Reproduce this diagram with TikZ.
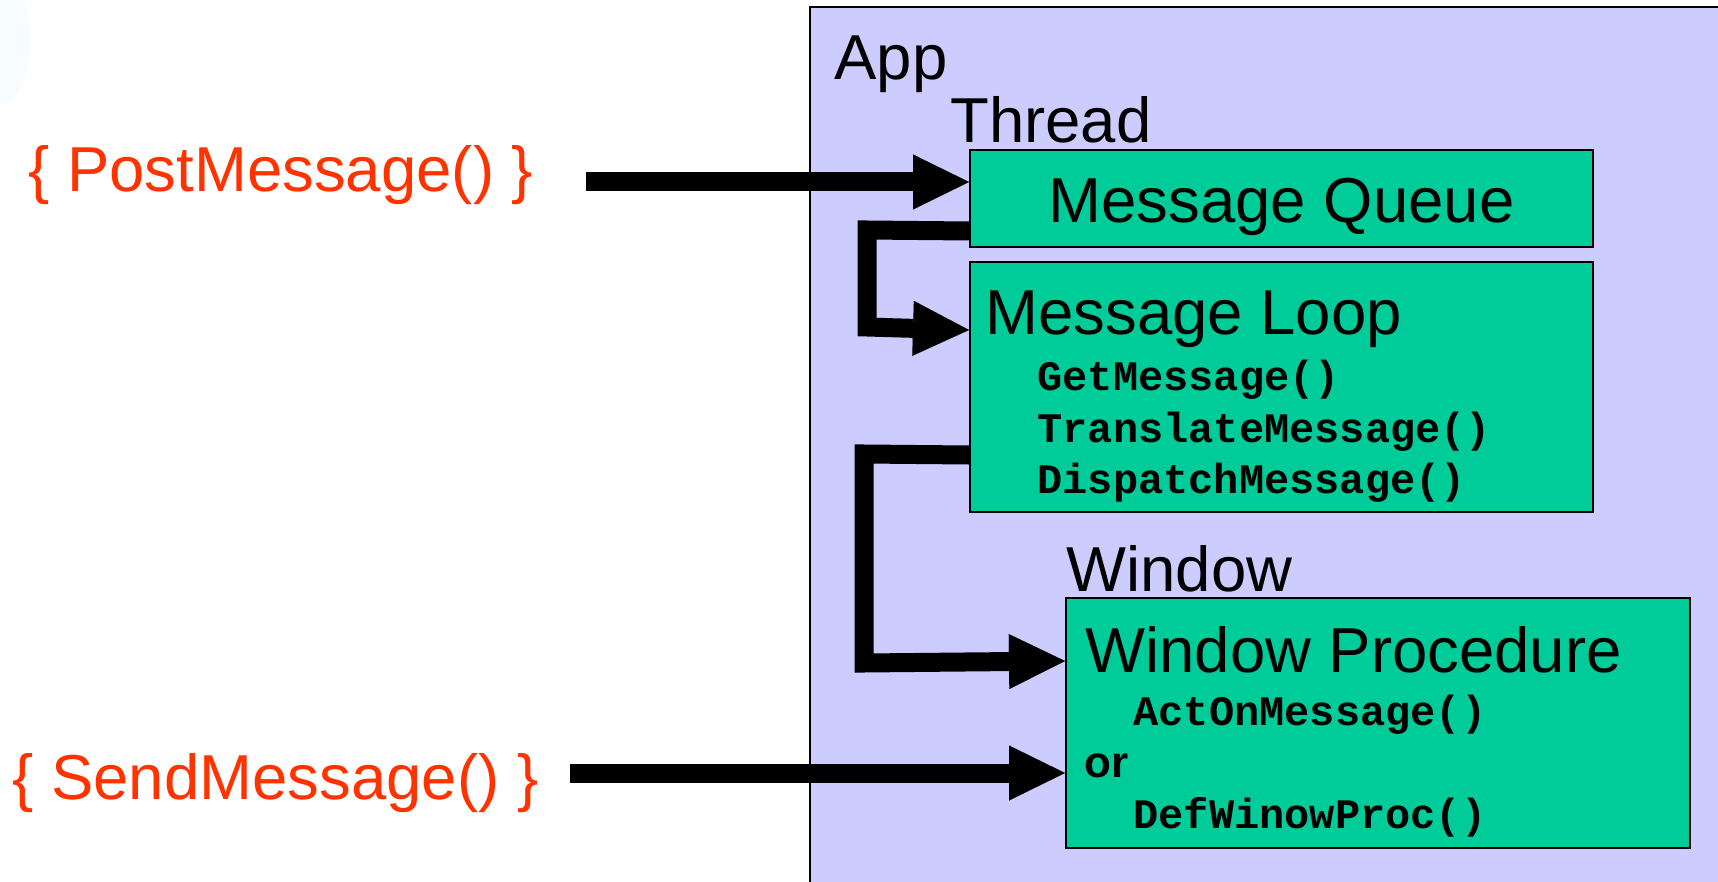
\documentclass[tikz,border=0pt]{standalone}
\usepackage{fontspec}
\setmainfont{Liberation Sans}
\newfontfamily\codefont{Liberation Mono}
\usetikzlibrary{arrows.meta,calc}
\definecolor{panelblue}{RGB}{204,204,255}
\definecolor{boxgreen}{RGB}{0,204,153}
\definecolor{callred}{RGB}{255,51,0}
\definecolor{haze}{RGB}{246,252,255}
\tikzset{
  label text/.style={anchor=base west, inner sep=0pt, font=\fontsize{31.75}{36}\selectfont},
  call text/.style={label text, text=callred},
  code text/.style={anchor=base west, inner sep=0pt, font=\codefont\bfseries\fontsize{21}{24}\selectfont},
  greenbox/.style={draw=black, line width=1pt, fill=boxgreen, inner sep=0pt},
  panel/.style={draw=black, line width=1pt, fill=panelblue, inner sep=0pt},
  bigarrow/.style={line width=9.5pt, line join=miter,
    -{Triangle[length=28pt,width=27.5pt,line width=0.01pt]}},
}
\begin{document}
\begin{tikzpicture}[x=0.5pt,y=-0.5pt]
\clip (0,0) rectangle (1718,882);
% faint glow in the upper left corner
\fill[haze] (0,40) ellipse [x radius=30, y radius=65];

% application panel
\node[panel, anchor=north west, minimum width=470pt, minimum height=450pt] (app) at (809,6) {};
\node[label text] (applbl) at (834,80) {App};
\node[label text] (threadlbl) at (950,143) {Thread};

% thread boxes
\node[greenbox, minimum width=311.5pt, minimum height=48.5pt] (mq) at (1281.5,198.5) {};
\node[label text, anchor=base] (mqtxt) at (1281.5,223) {Message Queue};

\node[greenbox, minimum width=311.5pt, minimum height=125pt] (ml) at (1281.5,387) {};
\node[label text] (mltxt) at (985,335) {Message Loop};
\node[code text] (get) at (1037,390) {GetMessage()};
\node[code text] (trans) at (1037,442) {TranslateMessage()};
\node[code text] (disp) at (1037,493) {DispatchMessage()};

% window box
\node[label text] (winlbl) at (1066,591) {Window};
\node[greenbox, minimum width=312pt, minimum height=125pt] (wp) at (1378,723) {};
\node[label text] (wptxt) at (1085,672) {Window Procedure};
\node[code text] (act) at (1133,725) {ActOnMessage()};
\node[anchor=base west, inner sep=0pt, font=\bfseries\fontsize{22}{24}\selectfont] (ortxt) at (1084,777) {or};
\node[code text] (defp) at (1133,828) {DefWinowProc()};

% callers
\node[call text] (post) at (28,192) {\{ PostMessage() \}};
\node[call text] (send) at (12,799) {\{ SendMessage() \}};

% message flow
\coordinate (postStart) at (586,182);
\draw[bigarrow] (postStart) -- (mq.west |- postStart);

\coordinate (sendStart) at (570,773);
\draw[bigarrow] (sendStart) -- (wp.west |- sendStart);

\coordinate (qOut) at ($(mq.south west)+(0,-17)$);
\coordinate (qBendA) at (867,230);
\coordinate (qBendB) at (867,327);
\coordinate (lIn) at ($(ml.north west)+(0,69)$);
\draw[bigarrow] (qOut) -- (qBendA) -- (qBendB) -- (lIn);

\coordinate (lOut) at ($(ml.south west)+(0,-58)$);
\coordinate (lBendA) at (864,454);
\coordinate (lBendB) at (864,663);
\coordinate (wIn) at ($(wp.north west)+(0,64)$);
\draw[bigarrow] (lOut) -- (lBendA) -- (lBendB) -- (wIn);
\end{tikzpicture}
\end{document}
